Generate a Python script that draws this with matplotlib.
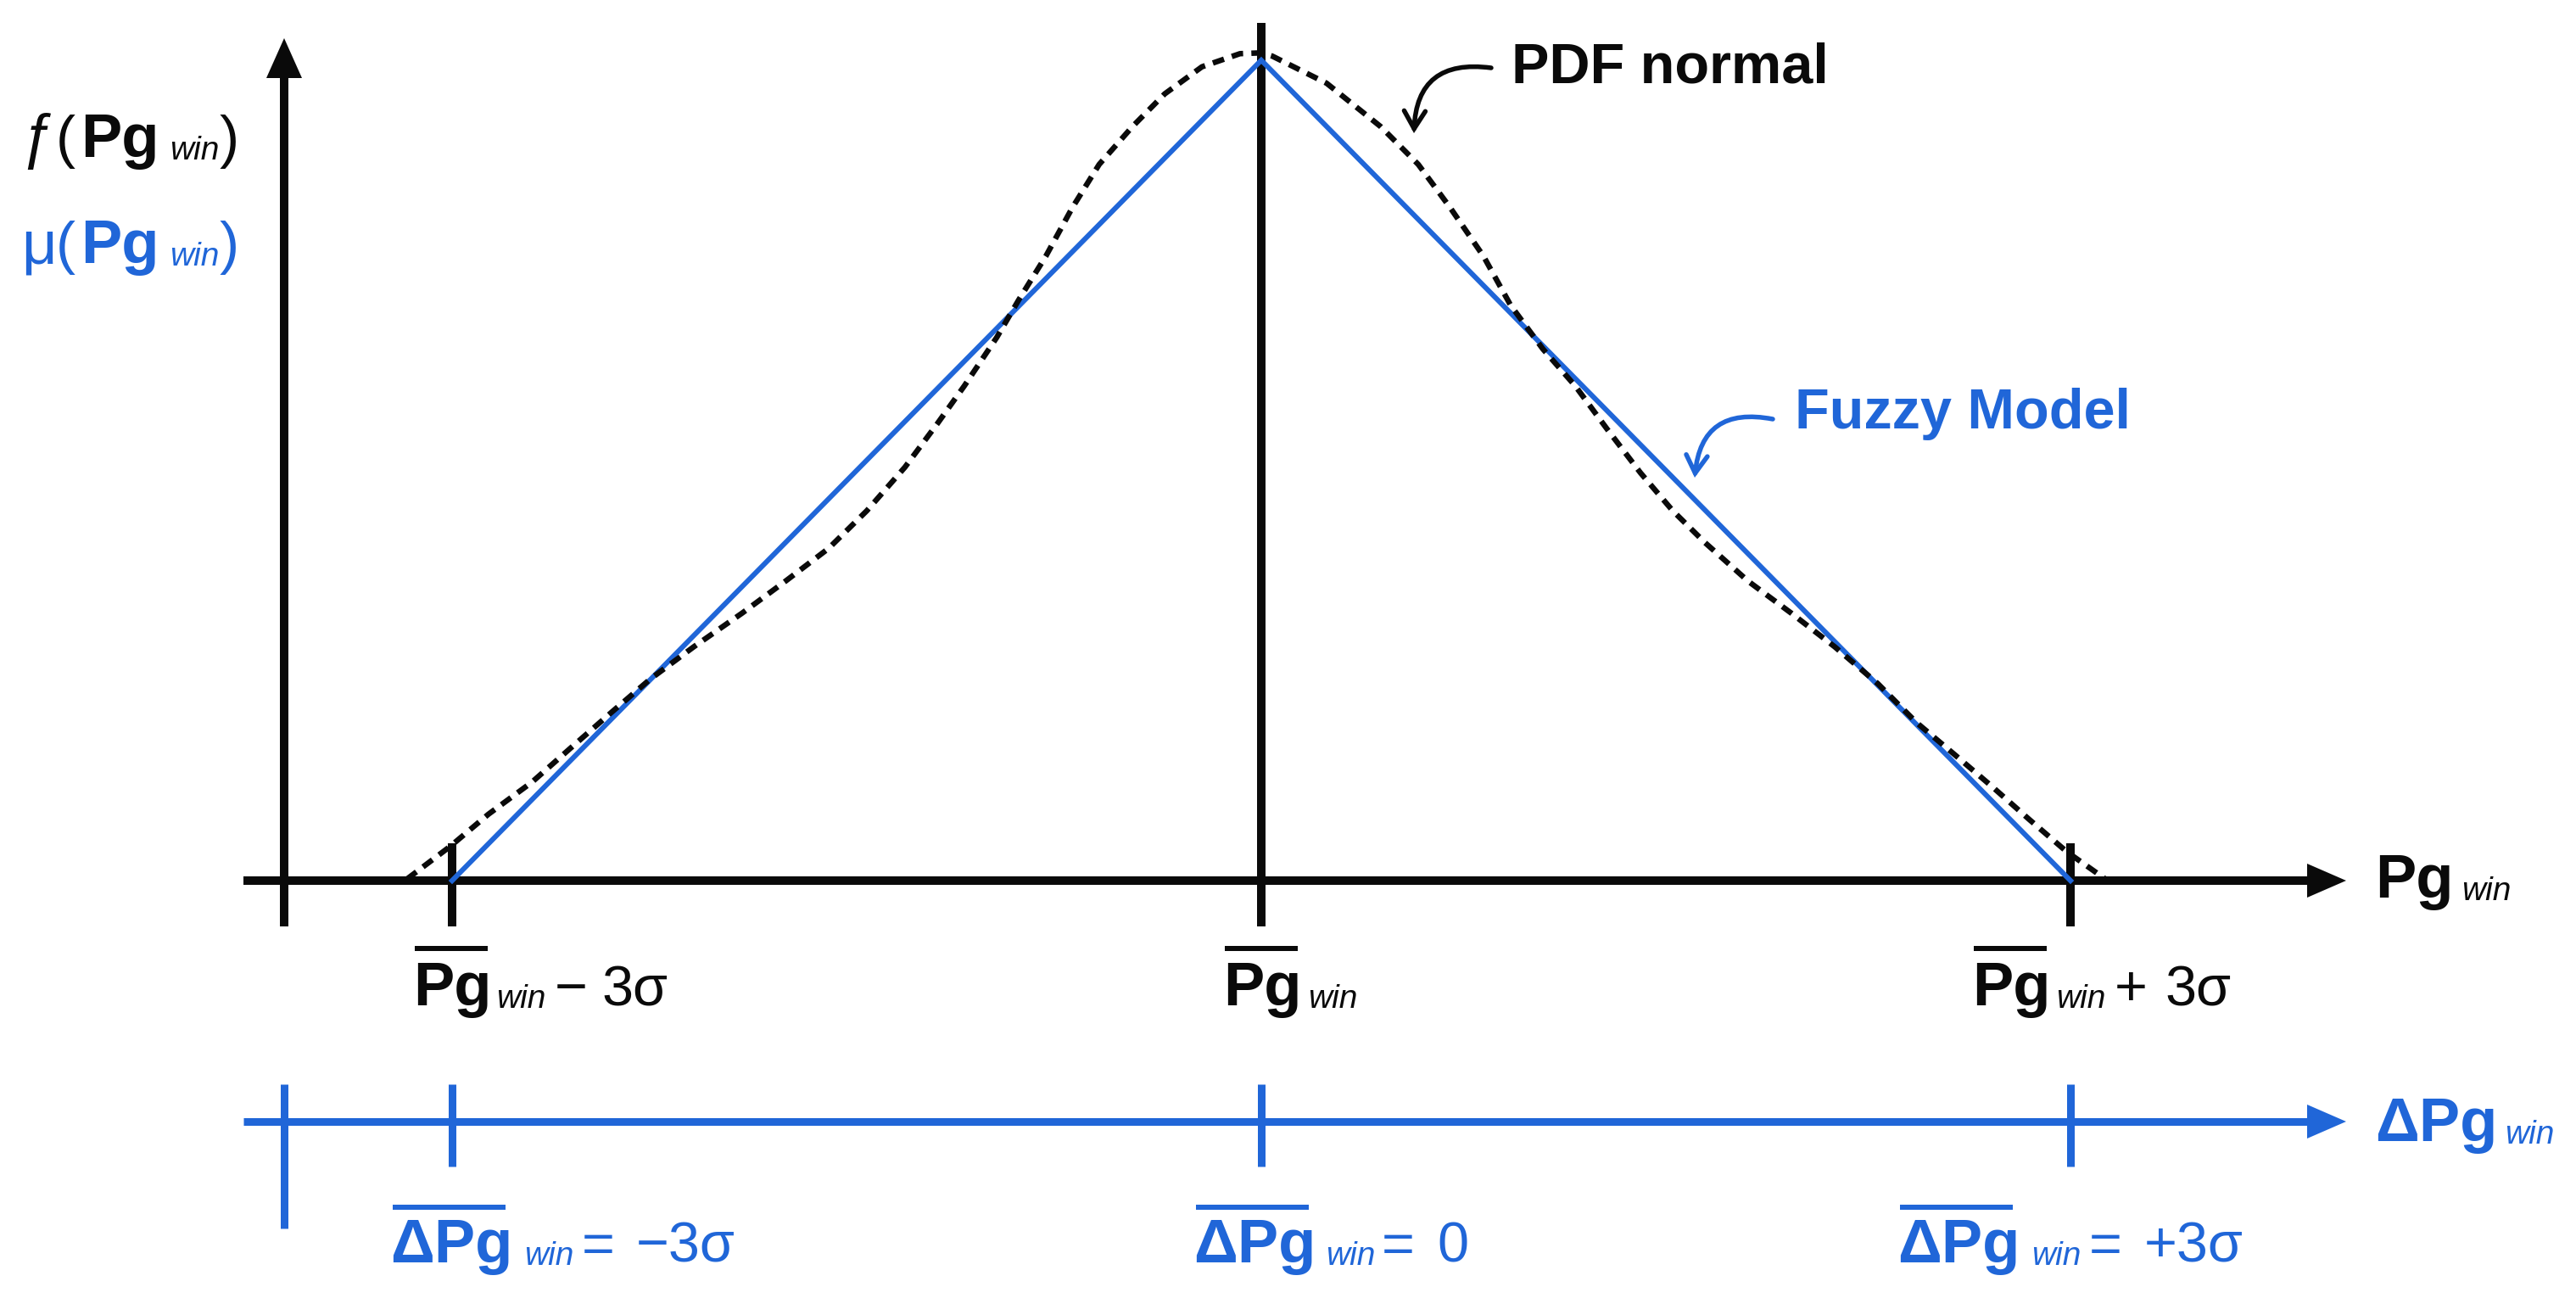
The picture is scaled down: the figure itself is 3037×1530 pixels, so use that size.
import matplotlib
matplotlib.use("Agg")
import matplotlib.pyplot as plt
from matplotlib.patches import FancyArrowPatch

# ---------------- data ----------------
# Fuzzy model: triangular membership (x in units of sigma, y relative height)
fuzzy_x = [-3.0, 0.0, 3.0]
fuzzy_y = [0.0, 1.0, 0.0]

# Normal PDF curve (x in sigma units, relative height)
pdf_x = [-3.167, -3.006, -2.865, -2.704, -2.566, -2.406, -2.264, -2.104, -1.925,
         -1.764, -1.604, -1.462, -1.321, -1.201, -1.101, -0.981, -0.899, -0.799,
         -0.701, -0.601, -0.478, -0.358, -0.220, -0.079, 0.0,
         0.041, 0.242, 0.443, 0.582, 0.701, 0.824, 0.925, 1.044, 1.164, 1.283,
         1.406, 1.525, 1.645, 1.805, 1.965, 2.126, 2.286, 2.428, 2.569, 2.708,
         2.849, 2.987, 3.129]
pdf_y = [0.002, 0.042, 0.081, 0.120, 0.160, 0.206, 0.246, 0.285, 0.326,
         0.365, 0.405, 0.451, 0.504, 0.557, 0.603, 0.662, 0.708, 0.761,
         0.820, 0.873, 0.919, 0.959, 0.992, 1.008, 1.009,
         1.005, 0.972, 0.919, 0.873, 0.820, 0.761, 0.701, 0.648, 0.603, 0.550,
         0.497, 0.451, 0.412, 0.365, 0.326, 0.285, 0.240, 0.193, 0.154, 0.115,
         0.074, 0.035, 0.002]

tick_sigma = [-3, 0, 3]
tick_signs = ["\u2212", "", "+"]                 # sign after Pg_win
delta_values = ["\u22123\u03c3", "0", "+3\u03c3"]

# ---------------- layout ----------------
W, H, DPI = 3037, 1530, 100
X0PX, SIGPX = 1487.0, 318.0      # pixel of x=0, pixels per sigma
Y0PX, UNITPX = 1038.0, 967.0     # pixel of y=0, pixels per unit height

BLUE = "#2066D8"
BLACK = "#0a0a0a"
FONT = "Liberation Sans"
plt.rcParams["lines.scale_dashes"] = False


def dx(px):
    return (px - X0PX) / SIGPX


def dy(py):
    return (Y0PX - py) / UNITPX


def lw(px):
    return px * 72.0 / DPI


fig = plt.figure(figsize=(W / DPI, H / DPI), dpi=DPI)
ax = fig.add_axes([0, 0, 1, 1])
ax.set_xlim(dx(0), dx(W))
ax.set_ylim(dy(H), dy(0))
ax.axis("off")

# ---------------- main (black) axes ----------------
ax.plot([dx(287), dx(2722)], [0, 0], color=BLACK, lw=lw(10), solid_capstyle="butt", zorder=3)
ax.fill([dx(2766), dx(2720), dx(2720)], [0, dy(1018), dy(1058)], color=BLACK, lw=0, zorder=3)
yaxis_x = dx(335)
ax.plot([yaxis_x, yaxis_x], [dy(1092), dy(88)], color=BLACK, lw=lw(10), solid_capstyle="butt", zorder=3)
ax.fill([yaxis_x, dx(314), dx(356)], [dy(45), dy(92), dy(92)], color=BLACK, lw=0, zorder=3)
# ticks / center line
for t in tick_sigma:
    top = dy(27) if t == 0 else dy(994)
    ax.plot([t, t], [dy(1092), top], color=BLACK, lw=lw(10), solid_capstyle="butt", zorder=3)

# ---------------- curves ----------------
ax.plot(fuzzy_x, fuzzy_y, color=BLUE, lw=lw(6), solid_joinstyle="miter", zorder=4)
ax.plot(pdf_x, pdf_y, color=BLACK, lw=lw(6.5), dashes=(10, 7), dash_capstyle="butt",
        dash_joinstyle="round", zorder=5)

# ---------------- blue delta axis ----------------
by = dy(1322)
ax.plot([dx(287), dx(2722)], [by, by], color=BLUE, lw=lw(9), solid_capstyle="butt", zorder=3)
ax.fill([dx(2766), dx(2720), dx(2720)], [by, dy(1302), dy(1342)], color=BLUE, lw=0, zorder=3)
ax.plot([yaxis_x, yaxis_x], [dy(1278), dy(1448)], color=BLUE, lw=lw(9), solid_capstyle="butt", zorder=3)
for t in tick_sigma:
    ax.plot([t, t], [dy(1278), dy(1375)], color=BLUE, lw=lw(9), solid_capstyle="butt", zorder=3)


# ---------------- text helpers ----------------
def txt(xp, yp, s, size, color=BLACK, weight="normal", style="normal"):
    ax.text(dx(xp), dy(yp), s, ha="left", va="baseline", fontsize=size,
            color=color, fontweight=weight, fontstyle=style, family=FONT, zorder=6)


def overline(x1, x2, yp, color):
    ax.plot([dx(x1), dx(x2)], [dy(yp), dy(yp)], color=color, lw=lw(6), solid_capstyle="butt")


BOLD_SZ, REG_SZ, SUB_SZ = 52, 48, 28

# y-axis labels
for base, first, col in [(185, "\u0192", BLACK), (310, "\u03bc", BLUE)]:
    txt(25, base, first, 52, col)
    txt(66, base, "(", 50, col)
    txt(95, base, "Pg", BOLD_SZ, col, weight="bold")
    txt(200, base + 3, "win", SUB_SZ, col, style="italic")
    txt(259, base, ")", 50, col)

# x axis name labels
txt(2800, 1058, "Pg", BOLD_SZ, BLACK, weight="bold")
txt(2902, 1061, "win", SUB_SZ, BLACK, style="italic")
txt(2800, 1345, "\u0394Pg", BOLD_SZ, BLUE, weight="bold")
txt(2953, 1348, "win", SUB_SZ, BLUE, style="italic")

# black tick labels  (Pg_win -3sigma, Pg_win, Pg_win +3sigma)
black_pg_x = [487, 1442, 2325]
black_win_x = [585, 1542, 2424]
black_sign_x = [654, None, 2493]
black_val_x = [709, None, 2552]
for i, t in enumerate(tick_sigma):
    txt(black_pg_x[i], 1185, "Pg", BOLD_SZ, BLACK, weight="bold")
    overline(black_pg_x[i] + 2, black_pg_x[i] + 88, 1118, BLACK)
    txt(black_win_x[i], 1188, "win", SUB_SZ, BLACK, style="italic")
    if tick_signs[i]:
        txt(black_sign_x[i], 1185, tick_signs[i], REG_SZ, BLACK)
        txt(black_val_x[i], 1185, "3\u03c3", REG_SZ, BLACK)

# blue tick labels  (ΔPg_win = value)
blue_pg_x = [460, 1407, 2237]
blue_win_x = [618, 1563, 2395]
blue_eq_x = [686, 1629, 2463]
blue_val_x = [750, 1694, 2528]
for i, t in enumerate(tick_sigma):
    txt(blue_pg_x[i], 1488, "\u0394Pg", BOLD_SZ, BLUE, weight="bold")
    overline(blue_pg_x[i] + 3, blue_pg_x[i] + 136, 1423, BLUE)
    txt(blue_win_x[i], 1491, "win", SUB_SZ, BLUE, style="italic")
    txt(blue_eq_x[i], 1488, "=", REG_SZ, BLUE)
    txt(blue_val_x[i], 1488, delta_values[i], REG_SZ, BLUE)

# annotations
txt(1782, 97, "PDF normal", 48, BLACK, weight="bold")
txt(2116, 505, "Fuzzy Model", 48, BLUE, weight="bold")

for (x1, y1, x2, y2, col) in [(1758, 80, 1667, 157, BLACK), (2090, 494, 1998, 563, BLUE)]:
    arr = FancyArrowPatch((dx(x1), dy(y1)), (dx(x2), dy(y2)),
                          connectionstyle="arc3,rad=0.55",
                          arrowstyle="->,head_length=15,head_width=9",
                          mutation_scale=1, lw=lw(5.5), color=col,
                          shrinkA=0, shrinkB=0, capstyle="round", joinstyle="miter", zorder=6)
    ax.add_patch(arr)

fig.savefig("out.png", dpi=DPI, facecolor="white")
